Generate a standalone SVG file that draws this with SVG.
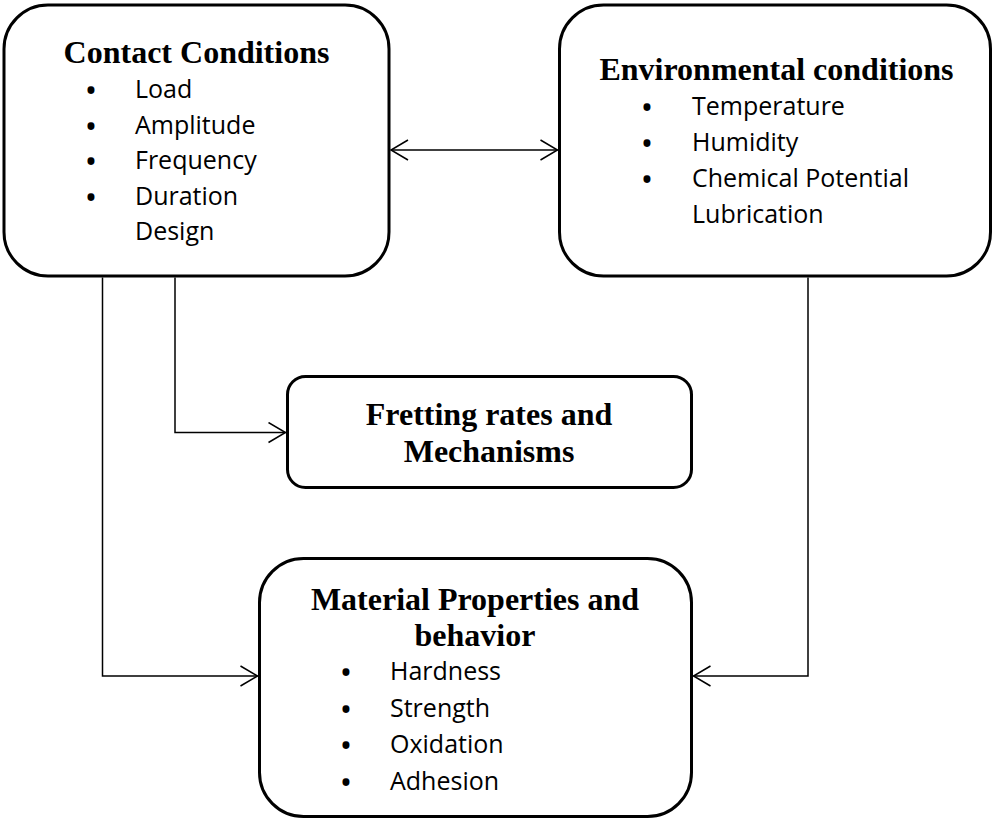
<svg xmlns="http://www.w3.org/2000/svg" width="994" height="821" viewBox="0 0 994 821">
  <defs>
    <style>
      .box { fill: #ffffff; stroke: #000000; stroke-width: 3; }
      .title { font-family: "Liberation Serif", "Times New Roman", serif; font-weight: bold; font-size: 32px; fill: #000000; text-anchor: middle; }
      .item { font-family: "Open Sans", "Noto Sans", sans-serif; font-size: 25px; fill: #000000; }
      .bullet { font-family: "Open Sans", "Noto Sans", sans-serif; font-weight: bold; font-size: 25px; fill: #000000; text-anchor: middle; }
      .conn { fill: none; stroke: #000000; stroke-width: 1.5; }
    </style>
    <marker id="arrow" viewBox="0 0 20 22" refX="18" refY="11" markerWidth="20" markerHeight="22" markerUnits="userSpaceOnUse" orient="auto-start-reverse">
      <path d="M1,1 L18,11 L1,21" fill="none" stroke="#000000" stroke-width="1.5"/>
    </marker>
  </defs>
  <rect width="994" height="821" fill="#ffffff"/>

  <g id="connectors">
    <line class="conn" x1="391" y1="150" x2="557.5" y2="150" marker-start="url(#arrow)" marker-end="url(#arrow)"/>
    <path class="conn" d="M102.5,277.5 V676 H257.5" marker-end="url(#arrow)"/>
    <path class="conn" d="M175,277.5 V432.5 H285.5" marker-end="url(#arrow)"/>
    <path class="conn" d="M808,277.5 V676 H693.5" marker-end="url(#arrow)"/>
  </g>

  <g id="contact-conditions">
    <rect class="box" x="4" y="5" width="385" height="271" rx="44" ry="44"/>
    <text class="title" x="196.5" y="63">Contact Conditions</text>
    <text class="bullet" x="91" y="99">•</text>
    <text class="item" x="135" y="98">Load</text>
    <text class="bullet" x="91" y="134.5">•</text>
    <text class="item" x="135" y="133.5">Amplitude</text>
    <text class="bullet" x="91" y="170">•</text>
    <text class="item" x="135" y="169">Frequency</text>
    <text class="bullet" x="91" y="205.5">•</text>
    <text class="item" x="135" y="204.5">Duration</text>
    <text class="item" x="135" y="240">Design</text>
  </g>

  <g id="environmental-conditions">
    <rect class="box" x="559.5" y="5" width="431" height="271" rx="44" ry="44"/>
    <text class="title" x="776.5" y="80">Environmental conditions</text>
    <text class="bullet" x="647" y="116">•</text>
    <text class="item" x="692" y="115">Temperature</text>
    <text class="bullet" x="647" y="152">•</text>
    <text class="item" x="692" y="151">Humidity</text>
    <text class="bullet" x="647" y="187.5">•</text>
    <text class="item" x="692" y="186.5">Chemical Potential</text>
    <text class="item" x="692" y="222.5">Lubrication</text>
  </g>

  <g id="fretting-rates">
    <rect class="box" x="287.5" y="376.5" width="404" height="111" rx="18" ry="18"/>
    <text class="title" x="489" y="425">Fretting rates and</text>
    <text class="title" x="489" y="462">Mechanisms</text>
  </g>

  <g id="material-properties">
    <rect class="box" x="259.5" y="558.5" width="432" height="258" rx="44" ry="44"/>
    <text class="title" x="475" y="610">Material Properties and</text>
    <text class="title" x="475" y="646">behavior</text>
    <text class="bullet" x="346" y="681">•</text>
    <text class="item" x="390" y="680">Hardness</text>
    <text class="bullet" x="346" y="718">•</text>
    <text class="item" x="390" y="717">Strength</text>
    <text class="bullet" x="346" y="754">•</text>
    <text class="item" x="390" y="753">Oxidation</text>
    <text class="bullet" x="346" y="791">•</text>
    <text class="item" x="390" y="790">Adhesion</text>
  </g>
</svg>
